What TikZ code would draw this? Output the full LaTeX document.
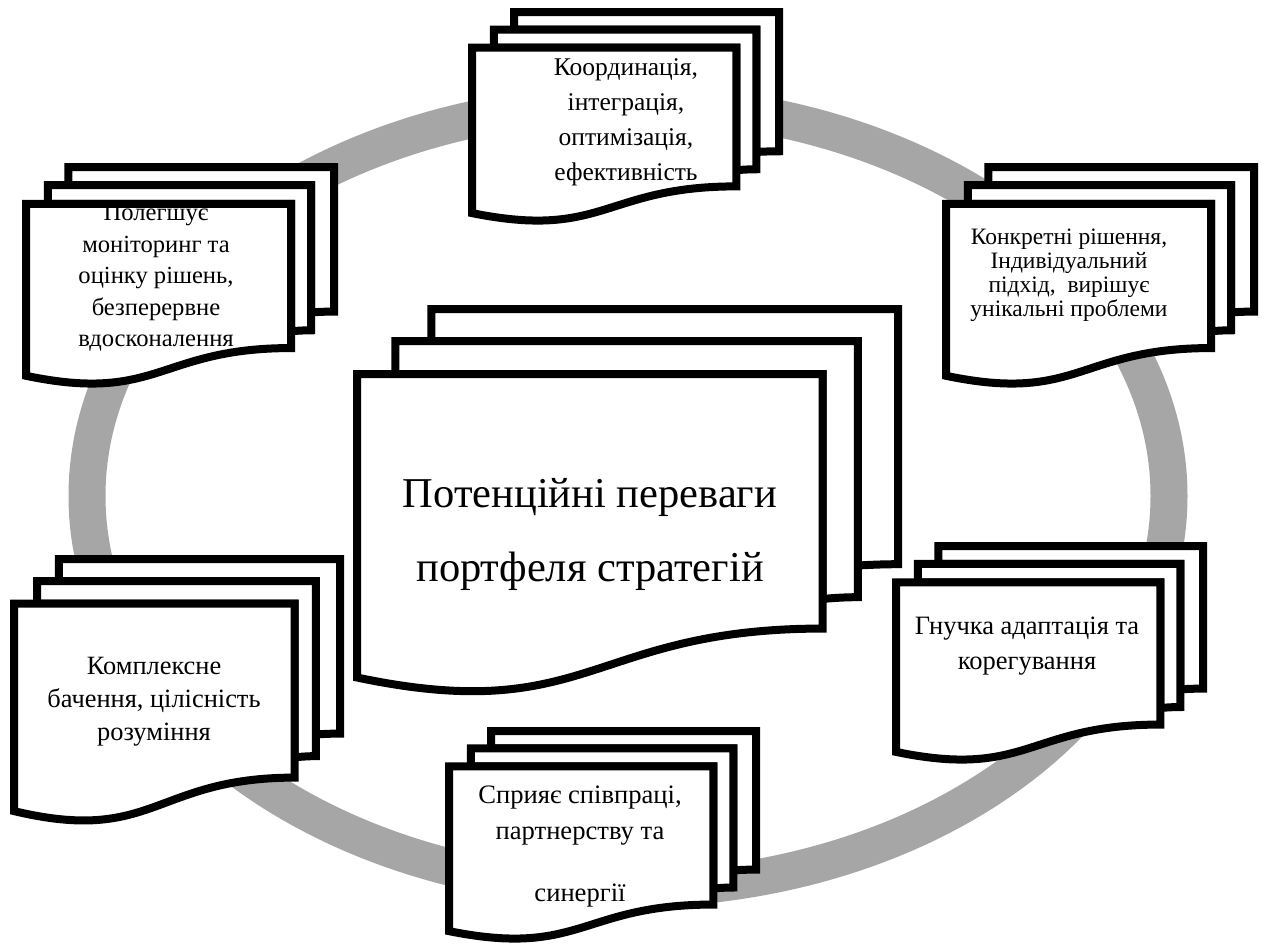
\documentclass[tikz,border=0pt]{standalone}
\usepackage{fontspec}
\setmainfont{Liberation Serif}
\definecolor{ringgray}{HTML}{A6A6A6}
\tikzset{
  docline/.style={draw=black, fill=white, line width=8pt, line join=miter},
  doctext/.style={inner sep=0pt, align=center, text=black},
  ringline/.style={draw=ringgray, line width=37pt}
}
% #1 left, #2 top, #3 width, #4 height (centre line of the outline)
\newcommand{\multidocshape}[4]{%
  \begin{scope}[shift={(#1,#2)}, xscale=#3/216, yscale=#4/216]
    \path[docline] (29.72,18.15) -- (29.72,0) -- (216,0) -- (216,143.92)
      .. controls (208,143.92) and (200,144.67) .. (200,144.67) -- (200,18.15) -- cycle;
    \path[docline] (15.32,36.75) -- (15.32,18.15) -- (200,18.15) -- (200,162.52)
      .. controls (192.98,162.52) and (185.95,163.52) .. (185.95,163.52) -- (185.95,36.75) -- cycle;
    \path[docline] (0,207.82) .. controls (92.98,235.42) and (92.98,180.22) .. (185.95,180.22)
      -- (185.95,36.75) -- (0,36.75) -- cycle;
  \end{scope}}
\begin{document}
\begin{tikzpicture}[x=1pt,y=-1pt]
  \useasboundingbox (0,0) rectangle (1264,946);
  \path[fill=white] (0,0) rectangle (1264,946);
  % ring
  \path[ringline] (628,496) ellipse [x radius=541pt, y radius=393pt];
  % documents
  \multidocshape{472}{12}{307}{209}
  \node[doctext, font=\fontsize{25.5pt}{35pt}\selectfont] (coord) at (626,122)
    {Координація,\\інтеграція,\\оптимізація,\\ефективність};

  \multidocshape{26}{167}{308}{217}
  \begin{scope}
    \clip (30,208) rectangle (290,420);
    \node[doctext, font=\fontsize{24.6pt}{31.5pt}\selectfont] (monit) at (156,278)
      {Полегшує\\моніторинг та\\оцінку рішень,\\безперервне\\вдосконалення};
  \end{scope}

  \multidocshape{946}{167}{308}{217}
  \node[doctext, font=\fontsize{23.5pt}{24pt}\selectfont] (konkr) at (1069,275)
    {Конкретні рішення,\\Індивідуальний\\підхід,\ \ вирішує\\унікальні проблеми};

  \multidocshape{357}{309}{541}{383}
  \node[doctext, font=\fontsize{42.5pt}{74pt}\selectfont] (centre) at (590,534)
    {Потенційні переваги\\портфеля стратегій};

  \multidocshape{14}{559}{326}{262}
  \node[doctext, font=\fontsize{26.4pt}{33pt}\selectfont] (kompl) at (154,702)
    {Комплексне\\бачення, цілісність\\розуміння};

  \multidocshape{896}{546}{307}{214}
  \node[doctext, font=\fontsize{26.5pt}{35pt}\selectfont] (gnuch) at (1027,646)
    {Гнучка адаптація та\\корегування};

  \multidocshape{449}{731}{307}{208}
  \node[doctext, font=\fontsize{26.6pt}{36pt}\selectfont] (spry) at (580,847)
    {Сприяє співпраці,\\партнерству та\\[26pt]синергії};
\end{tikzpicture}
\end{document}
